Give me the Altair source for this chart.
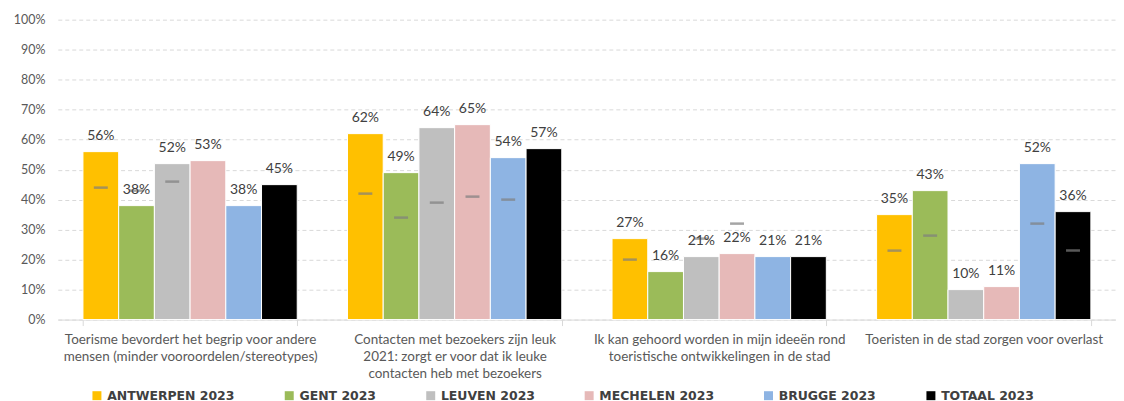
import altair as alt
import pandas as pd

questions = [
    "Toerisme bevordert het begrip voor andere|mensen (minder vooroordelen/stereotypes)",
    "Contacten met bezoekers zijn leuk|2021: zorgt er voor dat ik leuke|contacten heb met bezoekers",
    "Ik kan gehoord worden in mijn ideeën rond|toeristische ontwikkelingen in de stad",
    "Toeristen in de stad zorgen voor overlast",
]
cities = ["ANTWERPEN 2023", "GENT 2023", "LEUVEN 2023", "MECHELEN 2023", "BRUGGE 2023", "TOTAAL 2023"]
colors = ["#FFC000", "#9BBB59", "#BFBFBF", "#E6B9B8", "#8EB4E3", "#000000"]

antwerpen = [56, 62, 27, 35]
gent = [38, 49, 16, 43]
leuven = [52, 64, 21, 10]
mechelen = [53, 65, 22, 11]
brugge = [38, 54, 21, 52]
totaal = [45, 57, 21, 36]

# grey dash markers (earlier measurement)
antwerpen_prev = [44, 42, 20, 23]
gent_prev = [43, 34, None, 28]
leuven_prev = [46, 39, 27, None]
mechelen_prev = [None, 41, 32, None]
brugge_prev = [None, 40, None, 32]
totaal_prev = [None, None, None, 23]

y_ticks = list(range(0, 101, 10))

series = [antwerpen, gent, leuven, mechelen, brugge, totaal]
prevs = [antwerpen_prev, gent_prev, leuven_prev, mechelen_prev, brugge_prev, totaal_prev]

rows = []
for city, vals, pv in zip(cities, series, prevs):
    for q, v, p in zip(questions, vals, pv):
        rows.append({"q": q, "city": city, "value": v, "prev": p})
df = pd.DataFrame(rows)

FONT = "Lato"

base = alt.Chart(df).encode(
    x=alt.X(
        "q:N",
        sort=questions,
        title=None,
        scale=alt.Scale(paddingInner=0.19, paddingOuter=0.095),
        axis=alt.Axis(
            labelAngle=0,
            labelExpr="isValid(datum.value) ? split(datum.value, '|') : ''",
            labelLineHeight=17,
            labelFontSize=13.5,
            labelFont=FONT,
            labelColor="#595959",
            labelPadding=7,
            labelBaseline="top",
            domainColor="#D9D9D9",
            tickColor="#D9D9D9",
            tickBand="extent",
            tickSize=6,
            labelLimit=400,
        ),
    ),
    xOffset=alt.XOffset("city:N", sort=cities, scale=alt.Scale(paddingInner=0, paddingOuter=0)),
)

def yaxis():
    return alt.Axis(
        values=y_ticks,
        labelExpr="datum.value + '%'",
        labelOverlap=False,
        domain=False,
        ticks=False,
        grid=True,
        gridDash=[4, 3],
        gridColor="#D9D9D9",
        labelColor="#595959",
        labelFontSize=12.5,
        labelFont=FONT,
        labelPadding=13,
    )

yscale = alt.Scale(domain=[0, 100])

bars = base.mark_bar(stroke="#ffffff", strokeWidth=1).encode(
    y=alt.Y("value:Q", title=None, scale=yscale, axis=yaxis()),
    color=alt.Color(
        "city:N",
        sort=cities,
        scale=alt.Scale(domain=cities, range=colors),
        legend=alt.Legend(
            title=None,
            orient="none",
            legendX=33,
            legendY=371,
            direction="horizontal",
            columns=6,
            symbolType="square",
            symbolSize=81,
            symbolStrokeWidth=0,
            labelFont="DejaVu Sans",
            labelFontWeight="bold",
            labelFontSize=12.5,
            labelColor="#404040",
            labelOffset=4,
            columnPadding=48,
            labelLimit=300,
        ),
    ),
)

ticks = base.transform_filter("isValid(datum.prev)").mark_tick(
    color="#7F7F7F", size=14, thickness=2.5, orient="horizontal"
).encode(y=alt.Y("prev:Q", title=None, scale=yscale, axis=yaxis()))

labels = base.transform_calculate(lbl="datum.value + '%'").mark_text(
    baseline="bottom", dy=-9, fontSize=14, font=FONT, color="#404040"
).encode(y=alt.Y("value:Q", title=None, scale=yscale, axis=yaxis()), text="lbl:N")

chart = (
    alt.layer(bars, ticks, labels)
    .properties(width=1062, height=301, padding={"left": 5, "top": 5, "right": 0, "bottom": 0})
    .configure_view(stroke=None)
)

chart.save("out.html", embed_options={"renderer": "svg", "actions": False})
